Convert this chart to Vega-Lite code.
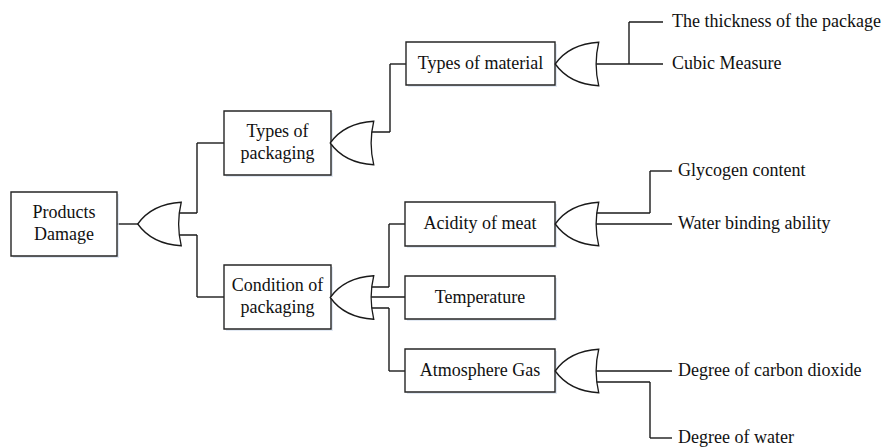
{
  "$schema": "https://vega.github.io/schema/vega-lite/v6.json",
  "width": 883,
  "height": 448,
  "padding": 0,
  "autosize": {"type": "fit", "contains": "padding"},
  "background": "white",
  "config": {"view": {"stroke": null}},
  "datasets": {
    "boxes": [
      {"id": "root", "x1": 11, "x2": 117, "y1": 192, "y2": 256, "cx": 64, "cy": 224, "label": "Products\nDamage", "lines": 2},
      {"id": "tpk", "x1": 224, "x2": 331, "y1": 111, "y2": 175, "cx": 277.5, "cy": 143, "label": "Types of\npackaging", "lines": 2},
      {"id": "cpk", "x1": 224, "x2": 331, "y1": 265, "y2": 329, "cx": 277.5, "cy": 297, "label": "Condition of\npackaging", "lines": 2},
      {"id": "tmat", "x1": 406, "x2": 555, "y1": 42, "y2": 85, "cx": 480.5, "cy": 64, "label": "Types of material", "lines": 1},
      {"id": "acid", "x1": 405, "x2": 555, "y1": 202, "y2": 246, "cx": 480, "cy": 224, "label": "Acidity of meat", "lines": 1},
      {"id": "temp", "x1": 405, "x2": 555, "y1": 276, "y2": 319, "cx": 480, "cy": 297.5, "label": "Temperature", "lines": 1},
      {"id": "atm", "x1": 405, "x2": 555, "y1": 349, "y2": 392, "cx": 480, "cy": 371, "label": "Atmosphere Gas", "lines": 1}
    ],
    "gates": [
      {"gate": "g-root", "x": 159.5, "y": 224},
      {"gate": "g-tpk", "x": 352, "y": 143},
      {"gate": "g-cpk", "x": 352, "y": 297.5},
      {"gate": "g-tmat", "x": 577, "y": 64},
      {"gate": "g-acid", "x": 577, "y": 224},
      {"gate": "g-atm", "x": 577, "y": 371}
    ],
    "segments": [
      {"x": 117, "x2": 140, "y": 224, "y2": 224},
      {"x": 160, "x2": 197, "y": 213, "y2": 213},
      {"x": 197, "x2": 197, "y": 213, "y2": 143},
      {"x": 197, "x2": 224, "y": 143, "y2": 143},
      {"x": 160, "x2": 197, "y": 235, "y2": 235},
      {"x": 197, "x2": 197, "y": 235, "y2": 297},
      {"x": 197, "x2": 224, "y": 297, "y2": 297},
      {"x": 352, "x2": 390, "y": 132, "y2": 132},
      {"x": 390, "x2": 390, "y": 132, "y2": 64},
      {"x": 390, "x2": 406, "y": 64, "y2": 64},
      {"x": 577, "x2": 663, "y": 64, "y2": 64},
      {"x": 629, "x2": 629, "y": 64, "y2": 22},
      {"x": 629, "x2": 663, "y": 22, "y2": 22},
      {"x": 352, "x2": 389, "y": 287, "y2": 287},
      {"x": 389, "x2": 389, "y": 287, "y2": 224},
      {"x": 389, "x2": 405, "y": 224, "y2": 224},
      {"x": 352, "x2": 405, "y": 297, "y2": 297},
      {"x": 352, "x2": 389, "y": 308, "y2": 308},
      {"x": 389, "x2": 389, "y": 308, "y2": 371},
      {"x": 389, "x2": 405, "y": 371, "y2": 371},
      {"x": 577, "x2": 650, "y": 213, "y2": 213},
      {"x": 650, "x2": 650, "y": 213, "y2": 171},
      {"x": 650, "x2": 672, "y": 171, "y2": 171},
      {"x": 577, "x2": 672, "y": 224, "y2": 224},
      {"x": 577, "x2": 672, "y": 371, "y2": 371},
      {"x": 577, "x2": 650, "y": 382, "y2": 382},
      {"x": 650, "x2": 650, "y": 382, "y2": 438},
      {"x": 650, "x2": 672, "y": 438, "y2": 438}
    ],
    "leaves": [
      {"x": 672, "y": 22, "label": "The thickness of the package"},
      {"x": 672, "y": 64, "label": "Cubic Measure"},
      {"x": 678, "y": 171, "label": "Glycogen content"},
      {"x": 678, "y": 224, "label": "Water binding ability"},
      {"x": 678, "y": 371, "label": "Degree of carbon dioxide"},
      {"x": 678, "y": 438, "label": "Degree of water"}
    ]
  },
  "layer": [
    {
      "data": {"name": "segments"},
      "mark": {"type": "rule", "color": "#1a1a1a", "strokeWidth": 1.4},
      "encoding": {
        "x": {"field": "x", "type": "quantitative", "scale": {"domain": [0, 883], "range": [0, 883], "nice": false, "zero": false}, "axis": null},
        "x2": {"field": "x2"},
        "y": {"field": "y", "type": "quantitative", "scale": {"domain": [0, 448], "range": [0, 448], "nice": false, "zero": false}, "axis": null},
        "y2": {"field": "y2"}
      }
    },
    {
      "data": {"name": "boxes"},
      "mark": {"type": "rect", "fill": "#d6e0ee", "opacity": 0.7, "xOffset": 2, "yOffset": 2, "x2Offset": 2, "y2Offset": 2},
      "encoding": {
        "x": {"field": "x1", "type": "quantitative"},
        "x2": {"field": "x2"},
        "y": {"field": "y1", "type": "quantitative"},
        "y2": {"field": "y2"}
      }
    },
    {
      "data": {"name": "boxes"},
      "mark": {"type": "rect", "fill": "white", "stroke": "#262626", "strokeWidth": 1.4},
      "encoding": {
        "x": {"field": "x1", "type": "quantitative"},
        "x2": {"field": "x2"},
        "y": {"field": "y1", "type": "quantitative"},
        "y2": {"field": "y2"}
      }
    },
    {
      "data": {"name": "gates"},
      "mark": {
        "type": "point",
        "shape": "M -1 0 Q -0.35 -0.92 1 -1 Q 0.76 0 1 1 Q -0.35 0.92 -1 0 Z",
        "size": 1890,
        "filled": true,
        "fill": "white",
        "opacity": 1,
        "stroke": "#1a1a1a",
        "strokeWidth": 1.3
      },
      "encoding": {
        "x": {"field": "x", "type": "quantitative"},
        "y": {"field": "y", "type": "quantitative"}
      }
    },
    {
      "data": {"name": "boxes"},
      "transform": [{"filter": "datum.lines == 1"}],
      "mark": {"type": "text", "font": "'Liberation Serif', 'Times New Roman', serif", "fontSize": 18, "align": "center", "baseline": "middle", "color": "#111111"},
      "encoding": {
        "x": {"field": "cx", "type": "quantitative"},
        "y": {"field": "cy", "type": "quantitative"},
        "text": {"field": "label"}
      }
    },
    {
      "data": {"name": "boxes"},
      "transform": [{"filter": "datum.lines == 2"}],
      "mark": {"type": "text", "font": "'Liberation Serif', 'Times New Roman', serif", "fontSize": 18, "align": "center", "baseline": "middle", "lineBreak": "\n", "lineHeight": 22, "dy": -11, "color": "#111111"},
      "encoding": {
        "x": {"field": "cx", "type": "quantitative"},
        "y": {"field": "cy", "type": "quantitative"},
        "text": {"field": "label"}
      }
    },
    {
      "data": {"name": "leaves"},
      "mark": {"type": "text", "font": "'Liberation Serif', 'Times New Roman', serif", "fontSize": 18, "align": "left", "baseline": "middle", "color": "#111111"},
      "encoding": {
        "x": {"field": "x", "type": "quantitative"},
        "y": {"field": "y", "type": "quantitative"},
        "text": {"field": "label"}
      }
    }
  ]
}
